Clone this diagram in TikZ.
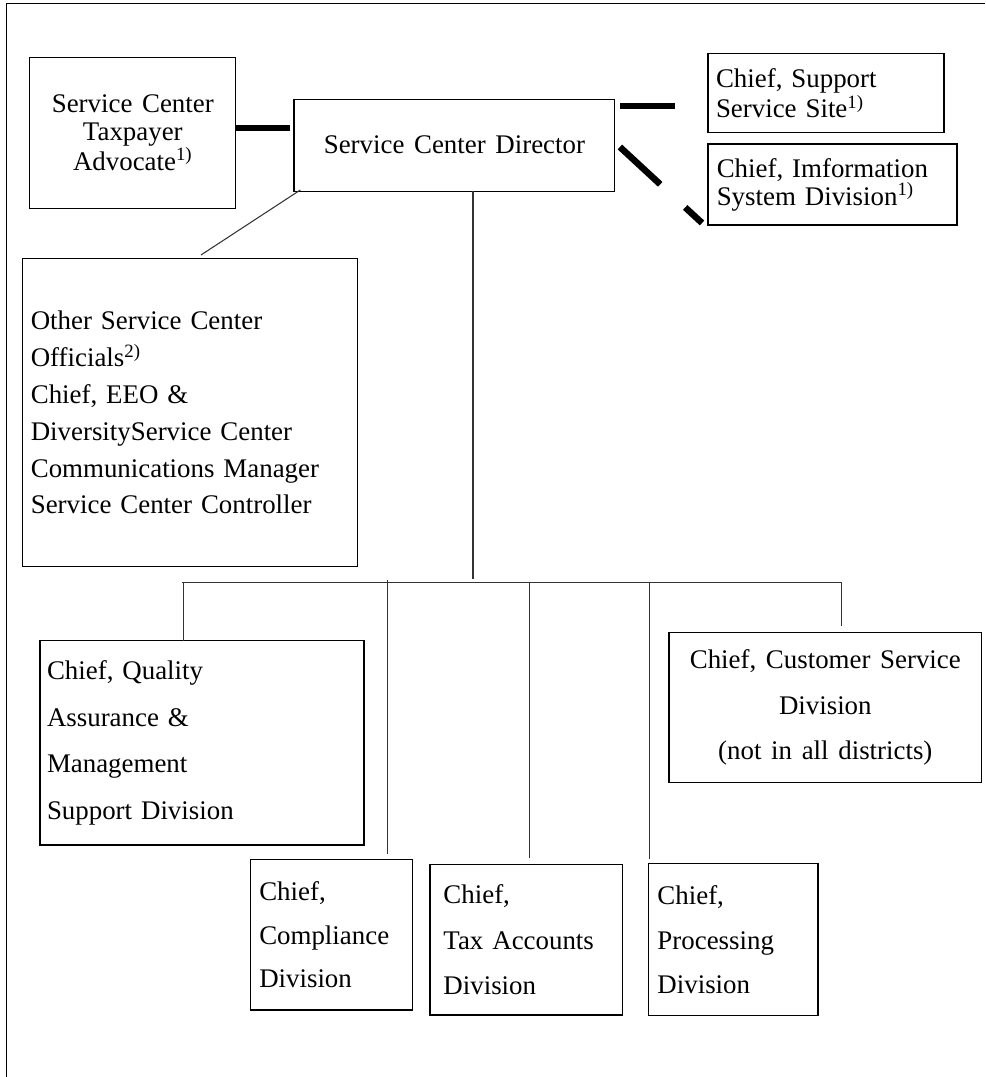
\documentclass[tikz,border=0pt]{standalone}
\usepackage{fontspec}
\setmainfont{Liberation Serif}
\usetikzlibrary{calc}
\newcommand\bxf[1]{\fontsize{15.3pt}{#1}\selectfont\spaceskip=0.36em plus 0.1em minus 0.05em\relax}
\begin{document}
\begin{tikzpicture}[x=0.02cm,y=-0.02cm,
  box/.style={draw=black, line width=0.7pt, inner ysep=0pt, outer sep=0pt},
  lbox/.style={box, align=left},
  cbox/.style={box, align=center, inner xsep=0pt},
  link/.style={draw=black!80, line width=0.6pt},
  heavy/.style={draw=black, line width=3.7pt, dash pattern=on 1.1cm off 0.68cm},
  frameline/.style={draw=black, line width=0.6pt}]
\useasboundingbox (0,0) rectangle (985,1077);
\draw[frameline] (6.7,1077) -- (6.7,3.3) -- (985,3.3);

% top row
\node[cbox, minimum width=4.12cm, minimum height=3.02cm, font=\bxf{15.6pt}] (tax) at (132.8,132.8)
  {Service Center\\Taxpayer\\Advocate\textsuperscript{1)}};
\node[cbox, minimum width=6.42cm, minimum height=1.84cm, font=\bxf{18pt}] (dir) at (454.4,145.2)
  {Service Center Director};
\node[lbox, minimum width=4.72cm, minimum height=1.59cm, inner xsep=0.16cm, text width=4.4cm, font=\bxf{15.9pt}] (sup) at (826,93)
  {Chief, Support\\Service Site\textsuperscript{1)}};
\node[lbox, minimum width=4.98cm, minimum height=1.62cm, inner xsep=0.174cm, text width=4.63cm, font=\bxf{15.9pt}] (info) at (832.5,184.5)
  {Chief, Imformation\\System Division\textsuperscript{1)}};

% officials
\node[lbox, minimum width=6.7cm, minimum height=6.17cm, inner xsep=0.168cm, text width=6.36cm, font=\bxf{21pt}] (off) at (189.8,412.5)
  {Other Service Center\\Officials\textsuperscript{2)}\\Chief, EEO \&\\DiversityService Center\\Communications Manager\\Service Center Controller};

% divisions
\node[lbox, minimum width=6.48cm, minimum height=4.09cm, inner xsep=0.14cm, text width=6.2cm, font=\bxf{26.6pt}] (qa) at (202,742.8)
  {Chief, Quality\\Assurance \&\\Management\\Support Division};
\node[cbox, minimum width=6.25cm, minimum height=3.01cm, font=\bxf{26pt}] (cust) at (825.3,707.5)
  {Chief, Customer Service\\Division\\(not in all districts)};
\node[lbox, minimum width=3.23cm, minimum height=3.01cm, inner xsep=0.172cm, text width=2.89cm, font=\bxf{25pt}] (comp) at (331.5,934.7)
  {Chief,\\Compliance\\Division};
\node[lbox, minimum width=3.85cm, minimum height=3.01cm, inner xsep=0.266cm, text width=3.31cm, font=\bxf{26pt}] (taxacc) at (526.2,939.7)
  {Chief,\\Tax Accounts\\Division};
\node[lbox, minimum width=3.39cm, minimum height=3.04cm, inner xsep=0.18cm, text width=3.03cm, font=\bxf{25.5pt}] (proc) at (733.2,939.8)
  {Chief,\\Processing\\Division};

% heavy dashed links
\draw[heavy] ($(dir.west)+(-3.6,-17.2)$) coordinate (t1) -- (t1 -| tax.east);
\draw[heavy] ($(dir.east)+(5,-39.2)$) coordinate (s1) -- (s1 -| sup.west);
\draw[heavy] ($(dir.east)+(5,1.8)$) -- ($(info.south west)+(-6,-2)$);

% thin links
\draw[link] ($(dir.south west)+(6.4,-1.2)$) -- ($(off.north)+(11.2,-3.3)$);
\coordinate (busL) at (181.7,582.7);
\coordinate (busR) at (841.7,582.7);
\draw[link] (busL) -- (busR);
\draw[link, shorten >=0.068cm] ($(dir.south)+(18.6,0)$) coordinate (d1) -- (d1 |- busL);
\draw[link] ($(qa.north)+(-18.7,0)$) coordinate (q1) -- (q1 |- busL);
\draw[link, shorten >=-0.054cm] ($(comp.north)+(56,-5.3)$) coordinate (c1) -- (c1 |- busL);
\draw[link] ($(taxacc.north)+(3,-6)$) coordinate (a1) -- (a1 |- busL);
\draw[link] ($(proc.north west)+(0.9,-5.3)$) coordinate (p1) -- (p1 |- busL);
\draw[link] ($(cust.north)+(16.4,-6.3)$) coordinate (u1) -- (u1 |- busL);
\end{tikzpicture}
\end{document}
